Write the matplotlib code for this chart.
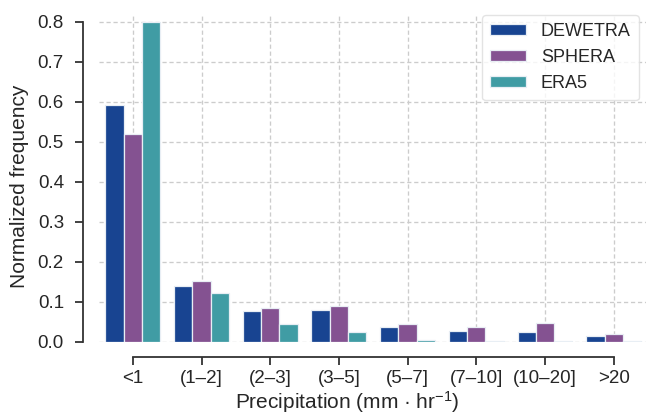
import matplotlib
matplotlib.use("Agg")
import matplotlib.pyplot as plt
import numpy as np

categories = ["<1", "(1\u20132]", "(2\u20133]", "(3\u20135]", "(5\u20137]", "(7\u201310]", "(10\u201320]", ">20"]
dewetra = [0.592, 0.138, 0.077, 0.080, 0.036, 0.026, 0.025, 0.013]
sphera = [0.520, 0.151, 0.083, 0.088, 0.044, 0.036, 0.046, 0.019]
era5 = [0.800, 0.122, 0.043, 0.025, 0.004, 0.0005, 0.0005, 0.0005]
series_names = ["DEWETRA", "SPHERA", "ERA5"]
colors = ["#184491", "#845291", "#409ca4"]

plt.rcParams["font.family"] = ["Liberation Sans", "DejaVu Sans"]
plt.rcParams["mathtext.fontset"] = "custom"
plt.rcParams["mathtext.rm"] = "Liberation Sans"
plt.rcParams["mathtext.it"] = "Liberation Sans:italic"
plt.rcParams["mathtext.bf"] = "Liberation Sans:bold"

W, H = 646, 416
fig = plt.figure(figsize=(W / 100, H / 100), dpi=100)
left, right, top, bottom = 98.6, 648.0, 16.0, 341.7
ax = fig.add_axes([left / W, 1 - bottom / H, (right - left) / W, (bottom - top) / H])

x = np.arange(len(categories))
w = 0.8 / 3
for i, (vals, name, c) in enumerate(zip([dewetra, sphera, era5], series_names, colors)):
    ax.bar(x + (i - 1) * w, vals, width=w, color=c, edgecolor="#e8eef4",
           linewidth=0.9, label=name, zorder=3)

ax.set_xlim(-0.5, 7.5)
ax.set_ylim(0, 0.814)
yt = np.round(np.arange(0, 0.81, 0.1), 1)
ax.set_yticks(yt)
ax.set_yticklabels([f"{v:.1f}" for v in yt])
ax.set_xticks(x)
ax.set_xticklabels(categories)

ax.grid(True, linestyle=(0, (3.2, 2.1)), color="#cccccc", linewidth=0.95, zorder=0)
ax.set_axisbelow(True)

for s in ["top", "right"]:
    ax.spines[s].set_visible(False)
ax.spines["left"].set_position(("outward", 11))
ax.spines["bottom"].set_position(("outward", 11))
ax.spines["left"].set_bounds(0, 0.8)
ax.spines["bottom"].set_bounds(0, 7)
for s in ["left", "bottom"]:
    ax.spines[s].set_color("#333333")
    ax.spines[s].set_linewidth(1.3)
ax.tick_params(axis="both", length=5.5, width=1.3, color="#333333", labelcolor="#262626",
               labelsize=13.5)
ax.tick_params(axis="y", pad=8.5)
ax.tick_params(axis="x", pad=4)

ax.set_ylabel("Normalized frequency", fontsize=15, color="#262626")
ax.set_xlabel("Precipitation (mm \u00b7 hr$^{\\mathregular{-1}}$)", fontsize=15, color="#262626")
ax.xaxis.label.set_va("baseline")
ax.yaxis.set_label_coords((28.5 - left) / (right - left), (bottom - 186.5) / (bottom - top))
ax.xaxis.set_label_coords((347.5 - left) / (right - left), -(408.5 - bottom) / (bottom - top))

leg = ax.legend(loc="upper right", bbox_to_anchor=(639 / W, 1 - 15 / H),
                bbox_transform=fig.transFigure, borderaxespad=0,
                fontsize=13, frameon=True, fancybox=True,
                handlelength=1.95, handleheight=0.55, handletextpad=0.85,
                borderpad=0.45, labelspacing=0.5)
leg.get_frame().set_edgecolor("#dddddd")
leg.get_frame().set_linewidth(1.0)
for t in leg.get_texts():
    t.set_color("#262626")

fig.savefig("out.png", dpi=100)
